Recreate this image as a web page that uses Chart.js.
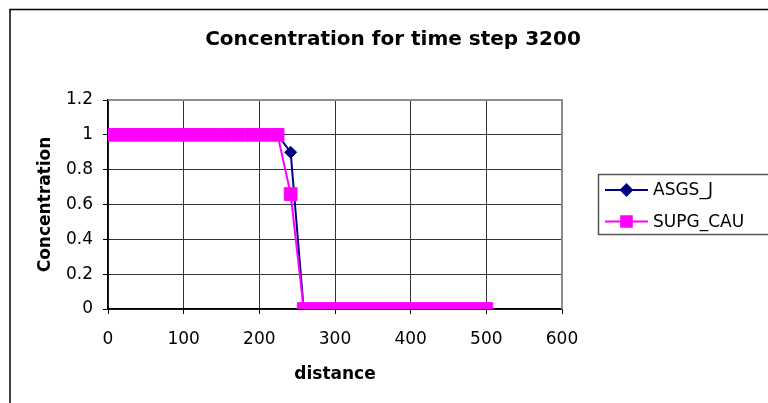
<!DOCTYPE html>
<html>
<head>
<meta charset="utf-8">
<script src="https://cdn.jsdelivr.net/npm/chart.js@4.4.0/dist/chart.umd.min.js"></script>
<style>
  html, body { margin: 0; padding: 0; background: #fff; }
  canvas { display: block; }
</style>
</head>
<body>
<canvas id="chart" width="768" height="403"></canvas>
<script>
// distance of each node (30 nodes from 0 to 500)
const distance = [0, 17.24, 34.48, 51.72, 68.97, 86.21, 103.45, 120.69, 137.93, 155.17,
    172.41, 189.66, 206.9, 224.14, 241.38, 258.62, 275.86, 293.1, 310.34, 327.59,
    344.83, 362.07, 379.31, 396.55, 413.79, 431.03, 448.28, 465.52, 482.76, 500];

const asgsJ = [1, 1, 1, 1, 1, 1, 1, 1, 1, 1, 1, 1, 1, 1, 0.9,
    0, 0, 0, 0, 0, 0, 0, 0, 0, 0, 0, 0, 0, 0, 0];

const supgCau = [1, 1, 1, 1, 1, 1, 1, 1, 1, 1, 1, 1, 1, 1, 0.66,
    0, 0, 0, 0, 0, 0, 0, 0, 0, 0, 0, 0, 0, 0, 0];

const xTicks = [0, 100, 200, 300, 400, 500, 600];
const yTicks = [0, 0.2, 0.4, 0.6, 0.8, 1, 1.2];

const FONT = 'DejaVu Sans';
const GRID = '#333';
const FRAME = '#8c8c8c';

const toPoints = (xs, ys) => xs.map((x, i) => ({ x: x, y: ys[i] }));

const series = [
    { label: 'ASGS_J', data: asgsJ, color: '#000080', style: 'rectRot', radius: 6, order: 1 },
    { label: 'SUPG_CAU', data: supgCau, color: '#FF00FF', style: 'rect', radius: 9, order: 0 },
];

/**
 * Khung ngoài, viền vùng vẽ và chú thích kiểu Excel
 */
const excelFrame = {
    id: 'excelFrame',
    beforeDraw(chart) {
        const c = chart.ctx;
        c.save();
        c.fillStyle = '#fff';
        c.fillRect(0, 0, chart.width, chart.height);
        c.strokeStyle = '#000';
        c.lineWidth = 1.5;
        c.beginPath();
        c.moveTo(10, chart.height);
        c.lineTo(10, 9.5);
        c.lineTo(chart.width, 9.5);
        c.stroke();
        c.restore();
    },
    beforeDatasetsDraw(chart) {
        const a = chart.chartArea;
        const c = chart.ctx;
        c.save();
        c.strokeStyle = FRAME;
        c.lineWidth = 2;
        c.beginPath();
        c.moveTo(a.left, a.top);
        c.lineTo(a.right, a.top);
        c.lineTo(a.right, a.bottom);
        c.stroke();
        c.restore();
    },
    afterDraw(chart) {
        const c = chart.ctx;
        c.save();
        c.strokeStyle = '#555';
        c.lineWidth = 1.5;
        c.strokeRect(598.5, 174.5, 190, 60);

        const rows = [190, 221.5];
        series.forEach((s, i) => {
            const y = rows[i];
            c.strokeStyle = s.color;
            c.lineWidth = 2;
            c.beginPath();
            c.moveTo(605, y);
            c.lineTo(648, y);
            c.stroke();
            c.fillStyle = s.color;
            Chart.helpers.drawPoint(c, {
                pointStyle: s.style,
                radius: s.style === 'rect' ? 7.5 : 5.5,
                rotation: 0,
                borderWidth: 1,
            }, 626.5, y);
            c.fill();
            c.fillStyle = '#000';
            c.font = `17px "${FONT}"`;
            c.textBaseline = 'middle';
            c.textAlign = 'left';
            c.fillText(s.label, 653, y + 1);
        });
        c.restore();
    },
};

new Chart(document.getElementById('chart'), {
    type: 'line',
    data: {
        datasets: series.map(s => ({
            label: s.label,
            data: toPoints(distance, s.data),
            borderColor: s.color,
            backgroundColor: s.color,
            borderWidth: 2,
            pointStyle: s.style,
            pointRadius: s.radius,
            pointBorderWidth: 1,
            pointBackgroundColor: s.color,
            pointBorderColor: s.color,
            tension: 0,
            order: s.order,
        })),
    },
    options: {
        responsive: false,
        animation: false,
        events: [],
        layout: { padding: { left: 18, right: 0, top: 0, bottom: 0 } },
        plugins: {
            legend: { display: false },
            tooltip: { enabled: false },
            title: {
                display: true,
                text: 'Concentration for time step 3200',
                color: '#000',
                font: { family: FONT, size: 20, weight: 'bold', lineHeight: 1.2 },
                padding: { top: 28, bottom: 48 },
            },
        },
        scales: {
            x: {
                type: 'linear',
                min: 0,
                max: 600,
                afterFit: s => { s.height = 94; },
                afterBuildTicks: s => { s.ticks = xTicks.map(v => ({ value: v })); },
                ticks: {
                    color: '#000',
                    font: { family: FONT, size: 17 },
                    padding: 15,
                    maxRotation: 0,
                    callback: v => String(v),
                },
                grid: {
                    color: ctx => ctx.tick && ctx.tick.value === 600 ? 'rgba(0,0,0,0)' : GRID,
                    lineWidth: 1,
                    tickLength: 5,
                    tickColor: '#000',
                },
                border: { color: '#000', width: 1.5 },
                title: {
                    display: true,
                    text: 'distance',
                    color: '#000',
                    font: { family: FONT, size: 17, weight: 'bold', lineHeight: 1.2 },
                    padding: { top: 0, bottom: 18 },
                },
            },
            y: {
                min: 0,
                max: 1.2,
                afterFit: s => { s.width = 90; },
                afterBuildTicks: s => { s.ticks = yTicks.map(v => ({ value: v })); },
                ticks: {
                    color: '#000',
                    font: { family: FONT, size: 17 },
                    padding: 10,
                    callback: v => String(v),
                },
                grid: {
                    color: ctx => ctx.tick && ctx.tick.value === 1.2 ? 'rgba(0,0,0,0)' : GRID,
                    lineWidth: 1,
                    tickLength: 5,
                    tickColor: '#000',
                },
                border: { color: '#000', width: 1.5 },
                title: {
                    display: true,
                    text: 'Concentration',
                    color: '#000',
                    font: { family: FONT, size: 17, weight: 'bold', lineHeight: 1.2 },
                    padding: { top: 17, bottom: 0 },
                },
            },
            legendSpace: {
                type: 'linear',
                position: 'right',
                display: true,
                afterFit: s => { s.width = 206; },
                ticks: { display: false },
                grid: { display: false },
                border: { display: false },
            },
        },
    },
    plugins: [excelFrame],
});
</script>
</body>
</html>
